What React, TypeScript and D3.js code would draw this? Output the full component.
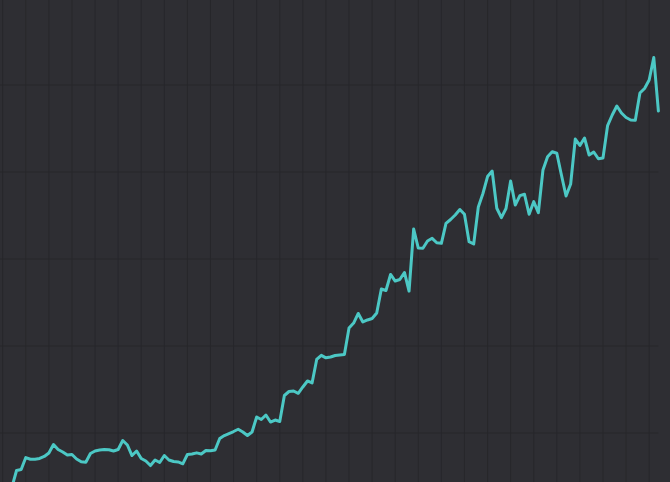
import React from "react";
import * as d3 from "d3";

const width = 670;
const height = 482;

// first sample sits at index 2 on the x axis (the view is cropped on the left)
const startIndex = 2;
const lastIndex = 142;

const values = [
  37.9, 56.9, 58.0, 71.8, 69.8, 69.8, 70.7, 73.0, 77.0, 86.8,
  81.0, 78.2, 74.7, 75.3, 70.1, 66.9, 66.3, 76.4, 79.3, 80.5,
  81.0, 80.7, 79.3, 81.0, 91.4, 86.2, 74.1, 79.3, 70.7, 67.8,
  62.6, 69.0, 66.1, 74.1, 69.0, 67.2, 66.7, 64.6, 75.3, 75.9,
  77.2, 75.9, 79.9, 79.5, 80.5, 93.7, 97.1, 99.4, 101.7, 104.3,
  101.1, 97.1, 101.1, 118.4, 115.5, 120.7, 112.6, 114.9, 113.2, 143.1,
  147.7, 148.3, 145.6, 152.9, 159.8, 157.5, 184.5, 189.3, 186.4, 187.4,
  189.1, 189.7, 190.2, 220.7, 226.4, 237.4, 227.6, 229.9, 231.6, 237.9,
  265.5, 263.8, 282.2, 274.7, 276.4, 284.5, 263.2, 334.5, 312.6, 312.3,
  320.7, 323.8, 318.7, 318.0, 341.0, 345.4, 350.6, 356.9, 351.4, 319.9,
  317.2, 359.8, 375.3, 394.8, 401.1, 358.3, 347.5, 358.0, 389.7, 362.1,
  372.8, 374.4, 351.4, 365.9, 353.2, 402.3, 417.6, 423.3, 421.5, 396.6,
  372.4, 386.2, 437.9, 430.5, 439.1, 419.5, 423.0, 415.2, 416.1, 453.4,
  465.5, 475.9, 467.8, 462.6, 459.8, 459.4, 490.8, 496.0, 505.7, 531.6,
  470.1,
];

const xGridTicks = d3.range(0, 141, 5);
const yGridTicks = [100, 200, 300, 400, 500];

export default function App() {
  const x = d3.scaleLinear().domain([0, lastIndex]).range([2.7, 658.4]);
  const y = d3.scaleLinear().domain([0, 500]).range([520, 85]);

  const points: [number, number][] = values.map((v, i) => [startIndex + i, v]);
  const line = d3
    .line<[number, number]>()
    .x((d) => x(d[0]))
    .y((d) => y(d[1]));

  return (
    <div style={{ position: "fixed", left: 0, top: 0, width, height }}>
      <svg width={width} height={height} style={{ display: "block" }}>
        <rect width={width} height={height} fill="#2e2e33" />
        <g stroke="#27272b" strokeWidth={1}>
          {xGridTicks.map((t) => (
            <line key={"x" + t} x1={x(t)} x2={x(t)} y1={0} y2={height} />
          ))}
          {yGridTicks.map((t) => (
            <line key={"y" + t} x1={0} x2={x(lastIndex)} y1={y(t)} y2={y(t)} />
          ))}
        </g>
        <path
          d={line(points) ?? ""}
          fill="none"
          stroke="#4cc8c5"
          strokeWidth={3}
          strokeLinejoin="round"
          strokeLinecap="round"
        />
      </svg>
    </div>
  );
}
